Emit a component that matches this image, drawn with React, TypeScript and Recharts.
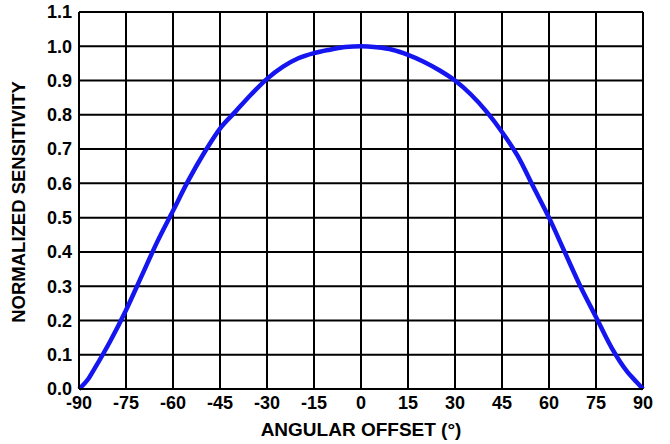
import React from "react";
import {
  LineChart,
  Line,
  XAxis,
  YAxis,
  CartesianGrid,
} from "recharts";

const angles = [
  -90, -87, -85, -80, -75, -70, -65, -60, -55, -50, -45, -40, -35, -30, -25,
  -20, -15, -10, -5, 0, 5, 10, 15, 20, 25, 30, 35, 40, 45, 50, 55, 60, 65, 70,
  75, 80, 85, 88, 90,
];
const sensitivity = [
  0, 0.03, 0.06, 0.14, 0.23, 0.33, 0.43, 0.52, 0.61, 0.69, 0.76, 0.81, 0.86,
  0.905, 0.94, 0.965, 0.98, 0.99, 0.998, 1.0, 0.997, 0.99, 0.975, 0.955, 0.93,
  0.9, 0.86, 0.81, 0.75, 0.68, 0.59, 0.5, 0.4, 0.3, 0.21, 0.12, 0.05, 0.02, 0,
];
const xTicks = [-90, -75, -60, -45, -30, -15, 0, 15, 30, 45, 60, 75, 90];
const yTicks = [0, 0.1, 0.2, 0.3, 0.4, 0.5, 0.6, 0.7, 0.8, 0.9, 1.0, 1.1];

const data = angles.map((a, i) => ({ angle: a, value: sensitivity[i] }));

const FONT = "'Liberation Sans', Arial, sans-serif";
const tickStyle = { fill: "#000", fontSize: 18, fontWeight: "bold", fontFamily: FONT };

const YTitle = () => (
  <text
    x={18}
    y={202}
    transform="rotate(-90 18 202)"
    textAnchor="middle"
    dominantBaseline="central"
    fontSize={18.5}
    fontWeight="bold"
    fontFamily={FONT}
    fill="#000"
  >
    NORMALIZED SENSITIVITY
  </text>
);

const App = () => {
  return (
    <div style={{ position: "absolute", left: 0, top: 0, width: 670, height: 444, background: "#fff" }}>
      <LineChart
        width={670}
        height={444}
        data={data}
        margin={{ top: 12, right: 27, bottom: 0, left: 0 }}
      >
        <CartesianGrid stroke="#000" strokeWidth={2} strokeDasharray="" />
        <XAxis
          dataKey="angle"
          type="number"
          domain={[-90, 90]}
          ticks={xTicks}
          height={55}
          tickLine={false}
          tickSize={0}
          tickMargin={7}
          axisLine={{ stroke: "#000", strokeWidth: 2 }}
          tick={tickStyle}
          interval={0}
          label={{
            value: "ANGULAR OFFSET (°)",
            position: "insideBottom",
            offset: 8,
            style: { fill: "#000", fontSize: 19, fontWeight: "bold", fontFamily: FONT },
          }}
        />
        <YAxis
          type="number"
          domain={[0, 1.1]}
          ticks={yTicks}
          width={79}
          tickLine={false}
          tickSize={0}
          tickMargin={7}
          axisLine={{ stroke: "#000", strokeWidth: 2 }}
          tick={tickStyle}
          interval={0}
          tickFormatter={(v: number) => v.toFixed(1)}
          label={{ content: () => <YTitle /> }}
        />
        <Line
          type="monotone"
          dataKey="value"
          stroke="#1515f0"
          strokeWidth={4.5}
          dot={false}
          isAnimationActive={false}
        />
      </LineChart>
    </div>
  );
};

export default App;
